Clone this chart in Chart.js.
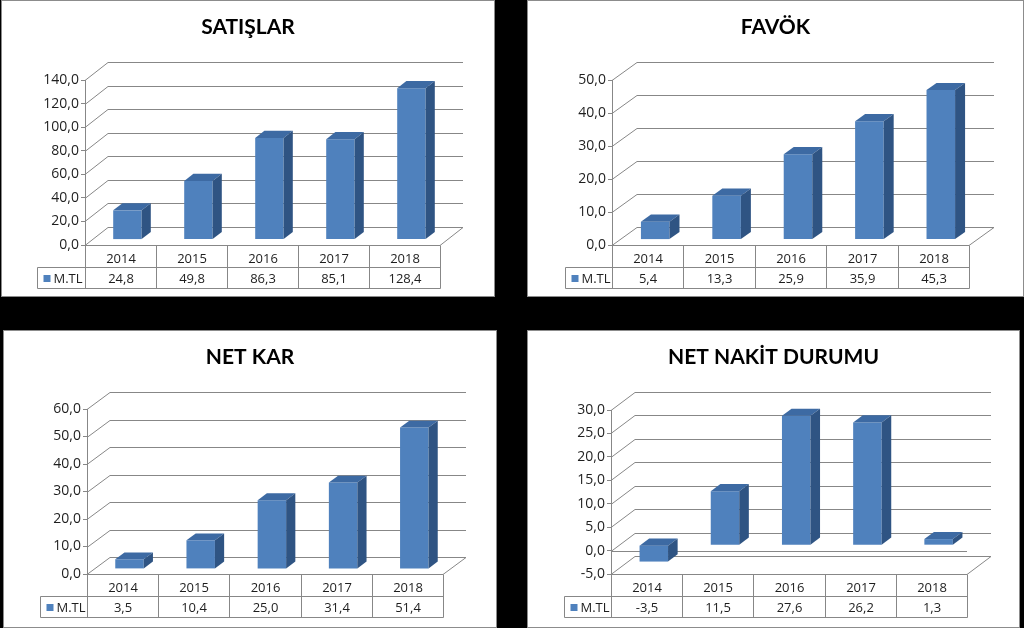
<!DOCTYPE html>
<html>
<head>
<meta charset="utf-8">
<script src="https://cdn.jsdelivr.net/npm/chart.js@4.4.1/dist/chart.umd.min.js"></script>
<style>
  html, body { margin: 0; padding: 0; background: #000; }
  body { width: 1024px; height: 628px; position: relative; overflow: hidden; }
  canvas { position: absolute; background: #fff; outline: 1px solid #8c8c8c; outline-offset: -1px; }
</style>
</head>
<body>
<canvas id="c1"></canvas>
<canvas id="c2"></canvas>
<canvas id="c3"></canvas>
<canvas id="c4"></canvas>
<script>
// ---- data ----
const years = ['2014', '2015', '2016', '2017', '2018'];
const seriesName = 'M.TL';
const satislar = [24.8, 49.8, 86.3, 85.1, 128.4];
const favok = [5.4, 13.3, 25.9, 35.9, 45.3];
const netKar = [3.5, 10.4, 25.0, 31.4, 51.4];
const netNakit = [-3.5, 11.5, 27.6, 26.2, 1.3];
const titles = ['SATIŞLAR', 'FAVÖK', 'NET KAR', 'NET NAKİT DURUMU'];
const yRanges = [[0, 140, 20], [0, 50, 10], [0, 60, 10], [-5, 30, 5]];

// ---- layout / style ----
const panels = [
  { id: 'c1', left: 1, top: 0, w: 494, h: 297, area: { l: 84, t: 80, r: 439, b: 245 }, depth: [23, -18], legendLeft: 36 },
  { id: 'c2', left: 527, top: 0, w: 497, h: 297, area: { l: 85, t: 80, r: 442, b: 245 }, depth: [25, -18], legendLeft: 38 },
  { id: 'c3', left: 3, top: 330, w: 494, h: 298, area: { l: 84, t: 79, r: 440, b: 244 }, depth: [23, -17], legendLeft: 37 },
  { id: 'c4', left: 527, top: 330, w: 493, h: 298, area: { l: 84, t: 80, r: 440, b: 244 }, depth: [24, -18], legendLeft: 37 }
];
const seriesData = [satislar, favok, netKar, netNakit];

const BLUE = '#4F81BD';
const BLUE_TOP = '#3D6AA3';
const BLUE_SIDE = '#2F5483';
const GRID = '#878787';
const TEXT = '#1e1e1e';

const fmt = v => Number(v).toFixed(1).replace('.', ',');

// 3D back wall, bar faces and data table
const wall3d = {
  id: 'wall3d',
  beforeDatasetsDraw(chart, args, opts) {
    const { ctx, chartArea: a, scales: { y } } = chart;
    const [dx, dy] = opts.depth;
    ctx.save();
    ctx.strokeStyle = GRID;
    ctx.lineWidth = 1;
    ctx.beginPath();
    y.ticks.forEach(t => {
      const py = Math.round(y.getPixelForValue(t.value)) + 0.5;
      ctx.moveTo(a.left, py);
      ctx.lineTo(a.left + dx, py + dy);
      ctx.lineTo(a.right + dx, py + dy);
    });
    const yMin = Math.round(y.getPixelForValue(y.min)) + 0.5;
    ctx.moveTo(a.left, yMin);
    ctx.lineTo(a.right, yMin);
    ctx.lineTo(a.right + dx, yMin + dy);
    if (y.min < 0) {
      const y0 = Math.round(y.getPixelForValue(0)) + 0.5;
      ctx.moveTo(a.left, y0);
      ctx.lineTo(a.right, y0);
    }
    ctx.stroke();
    ctx.restore();

    // shift bar fronts into the middle of the depth
    ctx.save();
    ctx.translate(dx * 0.3, dy * 0.3);
  },
  afterDatasetsDraw(chart, args, opts) {
    const { ctx } = chart;
    ctx.restore();
    const [dx, dy] = opts.depth;
    const ox = dx * 0.3, oy = dy * 0.3;
    const bx = dx * 0.4, by = dy * 0.4;
    chart.getDatasetMeta(0).data.forEach(el => {
      const p = el.getProps(['x', 'y', 'base', 'width'], true);
      const l = p.x - p.width / 2 + ox, r = p.x + p.width / 2 + ox;
      const t = Math.min(p.y, p.base) + oy, b = Math.max(p.y, p.base) + oy;
      ctx.fillStyle = BLUE_TOP;
      ctx.beginPath();
      ctx.moveTo(l, t); ctx.lineTo(r, t); ctx.lineTo(r + bx, t + by); ctx.lineTo(l + bx, t + by);
      ctx.closePath(); ctx.fill();
      ctx.fillStyle = BLUE_SIDE;
      ctx.beginPath();
      ctx.moveTo(r, t); ctx.lineTo(r + bx, t + by); ctx.lineTo(r + bx, b + by); ctx.lineTo(r, b);
      ctx.closePath(); ctx.fill();
    });
  },
  afterDraw(chart, args, opts) {
    const { ctx, scales: { x, y } } = chart;
    const h1 = 22, h2 = 21;
    const top = Math.round(y.getPixelForValue(y.min)) + 0.5;
    const mid = top + h1, bot = top + h1 + h2;
    const step = x.getPixelForValue(1) - x.getPixelForValue(0);
    const edges = years.map((_, i) => Math.round(x.getPixelForValue(i) - step / 2) + 0.5);
    edges.push(Math.round(x.getPixelForValue(years.length - 1) + step / 2) + 0.5);
    const lg = opts.legendLeft + 0.5;

    ctx.save();
    ctx.strokeStyle = GRID;
    ctx.lineWidth = 1;
    ctx.beginPath();
    edges.forEach(ex => { ctx.moveTo(ex, top); ctx.lineTo(ex, bot); });
    ctx.moveTo(lg, mid); ctx.lineTo(edges[edges.length - 1], mid);
    ctx.moveTo(lg, bot); ctx.lineTo(edges[edges.length - 1], bot);
    ctx.moveTo(lg, mid); ctx.lineTo(lg, bot);
    ctx.stroke();

    ctx.font = '13px "Open Sans"';
    ctx.fillStyle = TEXT;
    ctx.textAlign = 'center';
    ctx.textBaseline = 'middle';
    const vals = chart.data.datasets[0].data;
    years.forEach((yr, i) => {
      const cx = (edges[i] + edges[i + 1]) / 2;
      ctx.fillText(yr, cx, top + h1 / 2 + 3);
      ctx.fillText(fmt(vals[i]), cx, mid + h2 / 2 + 1);
    });
    ctx.fillStyle = BLUE;
    ctx.fillRect(lg + 6, mid + h2 / 2 - 3, 7, 7);
    ctx.fillStyle = TEXT;
    ctx.textAlign = 'left';
    ctx.fillText(seriesName, lg + 16, mid + h2 / 2 + 1);
    ctx.restore();
  }
};
Chart.register(wall3d);

function makeChart(p, i) {
  const cv = document.getElementById(p.id);
  cv.style.left = p.left + 'px';
  cv.style.top = p.top + 'px';
  cv.width = p.w;
  cv.height = p.h;
  const [yMin, yMax, yStep] = yRanges[i];
  const titleSize = 21;
  return new Chart(cv.getContext('2d'), {
    type: 'bar',
    data: {
      labels: years,
      datasets: [{
        label: seriesName,
        data: seriesData[i],
        backgroundColor: BLUE,
        borderWidth: 0,
        barPercentage: 0.4,
        categoryPercentage: 1,
        clip: false
      }]
    },
    options: {
      responsive: false,
      animation: false,
      devicePixelRatio: 1,
      layout: { padding: { left: 0, top: 0, right: 0, bottom: p.h - p.area.b } },
      plugins: {
        legend: { display: false },
        tooltip: { enabled: false },
        title: {
          display: true,
          text: titles[i],
          color: '#000',
          font: { family: 'Lato', weight: 'bold', size: titleSize, lineHeight: 1.2 },
          padding: { top: 27 - titleSize * 0.6, bottom: p.area.t - 27 - titleSize * 0.6 }
        },
        wall3d: { depth: p.depth, legendLeft: p.legendLeft }
      },
      scales: {
        x: { display: false, offset: true },
        y: {
          min: yMin,
          max: yMax,
          ticks: { stepSize: yStep, callback: v => fmt(v), color: TEXT, font: { family: 'Open Sans', size: 14 }, padding: 2 },
          grid: { drawOnChartArea: false, tickLength: 4, color: GRID },
          border: { display: true, color: GRID },
          afterFit: s => { s.width = p.area.l; }
        },
        // empty right-hand spacer so the plot sits where the reference has it
        yRight: {
          position: 'right',
          ticks: { display: false },
          grid: { display: false },
          border: { display: false },
          afterFit: s => { s.width = p.w - p.area.r; }
        }
      }
    }
  });
}

panels.forEach(makeChart);
</script>
</body>
</html>
